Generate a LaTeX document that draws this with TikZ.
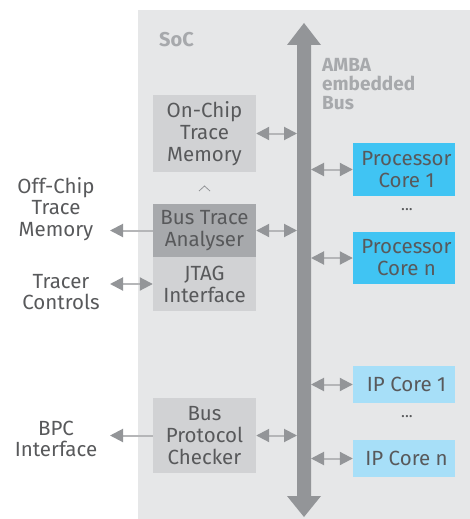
\documentclass[tikz,border=0pt]{standalone}
\usepackage{fontspec}
\setmainfont{Fira Sans}
\usetikzlibrary{arrows.meta}
\definecolor{socbg}{HTML}{E6E7E8}
\definecolor{busgray}{HTML}{939598}
\definecolor{boxlight}{HTML}{D1D2D4}
\definecolor{boxdark}{HTML}{A7A9AC}
\definecolor{procblue}{HTML}{40C4F3}
\definecolor{ipblue}{HTML}{A7DFF8}
\definecolor{txt}{HTML}{58595B}
\definecolor{lbl}{HTML}{A7A9AC}
\definecolor{linegray}{HTML}{B5B6B8}
\tikzset{
  blk/.style={rectangle, inner sep=0pt, minimum width=103pt, align=center, text=txt,
    font=\fontsize{20.5}{22}\selectfont},
  core/.style={blk, minimum width=102pt},
  outtxt/.style={align=center, text=txt, inner sep=0pt, font=\fontsize{20.5}{21.5}\selectfont},
  tipA/.tip={Triangle[length=13pt,width=13pt,color=busgray]},
  dar/.style={draw=linegray, line width=2pt, tipA-tipA},
  sar/.style={draw=linegray, line width=2pt, -tipA},
}
\begin{document}
\begin{tikzpicture}[x=1pt,y=-1pt]
\useasboundingbox (0,0) rectangle (470,519);
\fill[socbg] (138,10) rectangle (470,519);
% bus
\fill[busgray] (304,23) -- (321,45) -- (311,45) -- (311,496) -- (321,496) -- (304,517)
  -- (287,496) -- (297,496) -- (297,45) -- (287,45) -- cycle;
\coordinate (busL) at (297,0);
\coordinate (busR) at (311,0);
\coordinate (outtip) at (110,0);
% labels
\node[anchor=west, text=lbl, font=\bfseries\fontsize{20}{20}\selectfont, inner sep=0pt] (soc) at (159,40) {SoC};
\node[anchor=north west, text=lbl, align=left, font=\bfseries\fontsize{19}{19}\selectfont, inner sep=0pt] (amba) at (322,58) {AMBA\\embedded\\Bus};
% left column blocks
\node[blk, fill=boxlight, minimum height=77pt] (ocm) at (204.5,133.5) {On-Chip\\Trace\\Memory};
\draw[busgray, line width=0.8pt] (199,191) -- (204.5,186) -- (210,191);
\node[blk, fill=boxdark, minimum height=53pt] (bta) at (204.5,230.5) {Bus Trace\\Analyser};
\node[blk, fill=boxlight, minimum height=54pt] (jtag) at (204.5,284) {JTAG\\Interface};
\node[blk, fill=boxlight, minimum height=75pt] (bpc) at (204.5,435.5) {Bus\\Protocol\\Checker};
% right column
\node[core, fill=procblue, minimum height=53pt] (pc1) at (404,169.5) {\hspace*{5pt}Processor\\\hspace*{5pt}Core 1};
\node[text=txt, font=\fontsize{16}{16}\selectfont, inner sep=0pt] (dots1) at (407,210) {...};
\node[core, fill=procblue, minimum height=52pt] (pcn) at (404,258) {\hspace*{5pt}Processor\\\hspace*{5pt}Core n};
\node[core, fill=ipblue, minimum height=37pt] (ip1) at (404,384.5) {\hspace*{5pt}IP Core 1};
\node[text=txt, font=\fontsize{16}{16}\selectfont, inner sep=0pt] (dots2) at (407,417) {...};
\node[core, fill=ipblue, minimum height=37pt] (ipn) at (404,458.5) {\hspace*{5pt}IP Core n};
% outside texts
\node[outtxt] (offchip) at (56,209) {Off-Chip\\Trace\\Memory};
\node[outtxt] (tracer) at (61,292) {Tracer\\Controls};
\node[outtxt] (bpcif) at (56,439) {BPC\\Interface};
% connectors to bus
\draw[dar] (ocm.east) -- (ocm.east -| busL);
\draw[dar] (bta.east) -- (bta.east -| busL);
\draw[dar] (bpc.east) -- (bpc.east -| busL);
\draw[dar] (busR |- pc1.west) -- (pc1.west);
\draw[dar] (busR |- pcn.west) -- (pcn.west);
\draw[dar] (busR |- ip1.west) -- (ip1.west);
\draw[dar] (busR |- ipn.west) -- (ipn.west);
% connectors to outside
\draw[sar] (bta.west) -- (bta.west -| outtip);
\draw[dar] (outtip |- jtag.west) -- (jtag.west);
\draw[sar] (bpc.west) -- (bpc.west -| outtip);
\end{tikzpicture}
\end{document}
